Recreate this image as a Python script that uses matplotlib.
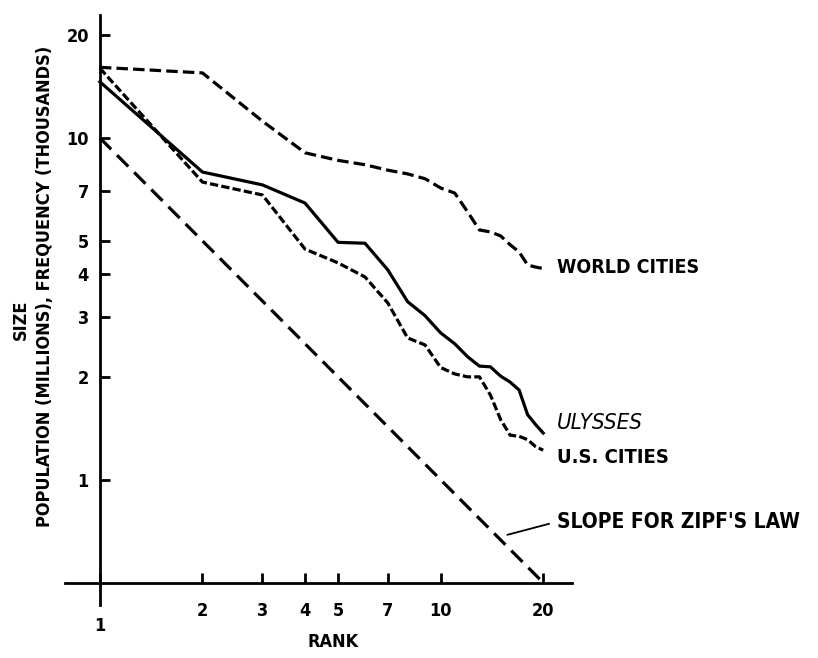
import numpy as np
import matplotlib
matplotlib.use("Agg")
import matplotlib.pyplot as plt

plt.rcParams['font.family'] = ['DejaVu Sans']
plt.rcParams['font.stretch'] = 'condensed'

# rank 1..20, values
rank = list(range(1, 21))
world_cities = [16.1, 15.5, 11.2, 9.05, 8.6, 8.35, 8.05, 7.85, 7.6, 7.14,
                6.9, 6.08, 5.38, 5.31, 5.17, 4.87, 4.64, 4.25, 4.19, 4.15]
ulysses = [14.6, 7.95, 7.29, 6.45, 4.95, 4.92, 4.11, 3.32, 3.02, 2.69,
           2.5, 2.29, 2.15, 2.14, 2.01, 1.93, 1.83, 1.55, 1.45, 1.37]
us_cities = [16.0, 7.43, 6.81, 4.73, 4.31, 3.92, 3.29, 2.6, 2.48, 2.13,
             2.04, 2.0, 2.0, 1.77, 1.5, 1.35, 1.34, 1.31, 1.25, 1.22]
zipf_rank = [1, 20]
zipf = [10, 0.5]

xticks = [1, 2, 3, 4, 5, 7, 10, 20]
yticks = [1, 2, 3, 4, 5, 7, 10, 20]

fig = plt.figure(figsize=(8.18, 6.58), dpi=100)
ax = fig.add_axes([65/818, 53/658, 507/818, 590/658])
ax.set_xscale('log')
ax.set_yscale('log')
ax.set_xlim(0.79, 24.3)
ax.set_ylim(0.43, 22.9)

lw = 2.3
ax.plot(zipf_rank, zipf, color='black', lw=lw, dashes=(5, 2.6), solid_capstyle='butt')
ax.plot(rank, world_cities, color='black', lw=lw, dashes=(3.6, 1.6))
ax.plot(rank, ulysses, color='black', lw=lw)
ax.plot(rank, us_cities, color='black', lw=lw, dashes=(2.6, 1.0))

for s in ['top', 'right']:
    ax.spines[s].set_visible(False)
ax.spines['left'].set_position(('data', 1))
ax.spines['bottom'].set_position(('data', 0.5))
for s in ['left', 'bottom']:
    ax.spines[s].set_linewidth(2)

ax.minorticks_off()
ax.set_xticks(xticks)
ax.set_xticklabels([str(t) for t in xticks])
ax.set_yticks(yticks)
ax.set_yticklabels([str(t) for t in yticks])
ax.tick_params(axis='both', direction='in', length=7, width=2, labelsize=13, pad=14)
ax.tick_params(axis='y', pad=8)
for lab in ax.get_xticklabels() + ax.get_yticklabels():
    lab.set_fontweight('bold')
ax.xaxis.get_major_ticks()[0].set_pad(25)

txt = dict(fontsize=14, fontweight='bold', va='center', ha='left')
ax.text(22, 4.17, 'WORLD CITIES', **txt)
ax.text(22, 1.47, 'ULYSSES', style='italic', **{**txt, 'fontsize': 16, 'fontweight': 'normal'})
ax.text(22, 1.16, 'U.S. CITIES', **{**txt, 'fontsize': 14.5})
ax.annotate("SLOPE FOR ZIPF'S LAW", xy=(15.7, 0.69), xytext=(22, 0.754),
            va='center', ha='left', fontsize=15, fontweight='bold',
            arrowprops=dict(arrowstyle='-', color='black', lw=1.3, relpos=(0, 0.5),
                            shrinkA=4, shrinkB=0))

fig.text(333/818, 1 - 642/658, 'RANK', ha='center', va='center', fontsize=13, fontweight='bold')
fig.text(21/818, 1 - 320/658, 'SIZE', rotation=90, ha='center', va='center',
         fontsize=13, fontweight='bold')
fig.text(45/818, 1 - 286/658, 'POPULATION (MILLIONS), FREQUENCY (THOUSANDS)', rotation=90,
         ha='center', va='center', fontsize=13, fontweight='bold')

fig.savefig('out.png', dpi=100)
